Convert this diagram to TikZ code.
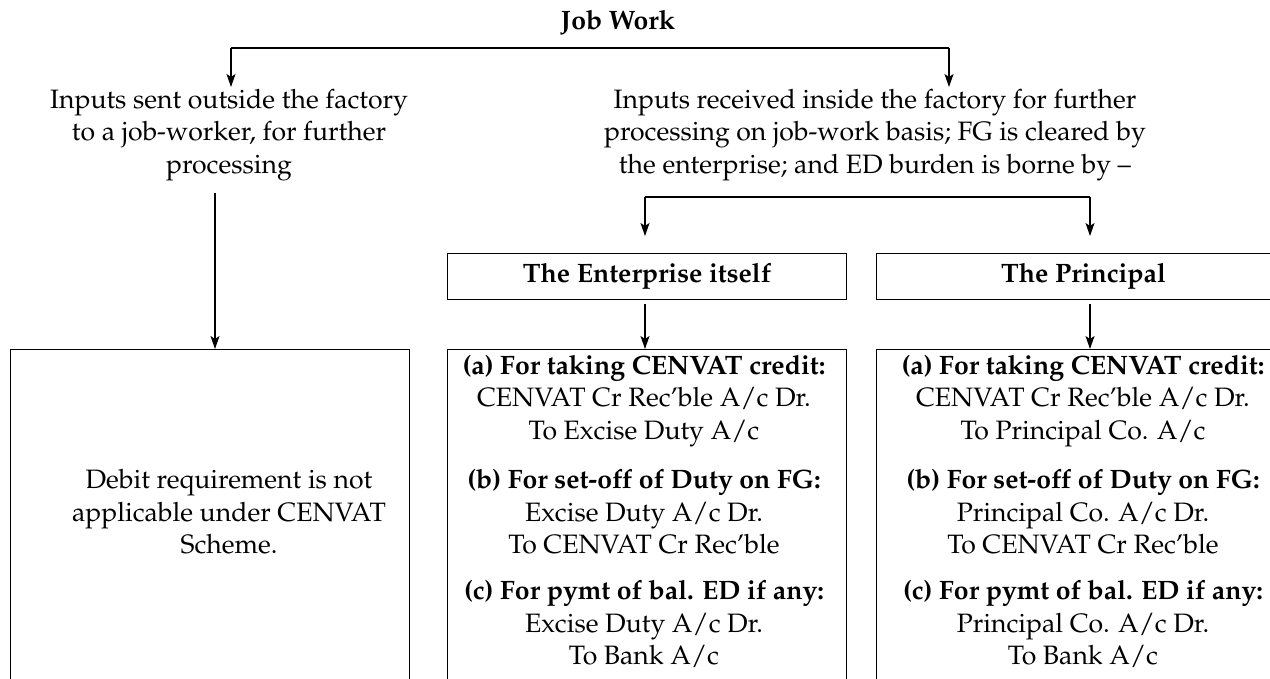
\documentclass[tikz,border=0pt]{standalone}
\usepackage[T1]{fontenc}
\usepackage{mathpazo}
\usetikzlibrary{arrows.meta}
\begin{document}
\begin{tikzpicture}[x=1pt,y=-1pt,
  ln/.style={line width=1.1pt},
  arr/.style={ln,-{Stealth[length=13pt,width=9pt,inset=3pt]}},
  box/.style={draw,line width=1.1pt,inner sep=0pt,anchor=north west},
  txt/.style={font=\fontsize{26.6}{32.5}\selectfont,align=center,inner sep=0pt},
  btxt/.style={txt,font=\fontsize{26.6}{32.5}\selectfont\bfseries}]
\useasboundingbox (0,0) rectangle (1270,678);
% title
\node[btxt] (title) at (618,23) {Job Work};
% first level texts
\node[txt] (ltext) at (229,135) {Inputs sent outside the factory\\to a job-worker, for further\\processing};
\node[txt] (rtext) at (875,135) {Inputs received inside the factory for further\\processing on job-work basis; FG is cleared by\\the enterprise; and ED burden is borne by --};
% second level boxes
\node[box,minimum width=399pt,minimum height=46pt] (ent) at (447,253) {};
\node[btxt] (entt) at (ent.center) {The Enterprise itself};
\node[box,minimum width=414pt,minimum height=46pt] (prin) at (876,253) {};
\node[btxt] (print) at (prin.center) {The Principal};
% bottom boxes (open at the bottom edge of the page)
\node[box,minimum width=399pt,minimum height=400pt] (lbox) at (10,349) {};
\node[box,minimum width=399pt,minimum height=400pt] (mbox) at (447,349) {};
\node[box,minimum width=414pt,minimum height=400pt] (rbox) at (876,349) {};
% bottom texts
\node[txt] (ltxt) at (229,512) {Debit requirement is not\\applicable under CENVAT\\Scheme.};
\node[txt] (ma) at (644,401) {\textbf{(a) For taking CENVAT credit:}\\CENVAT Cr Rec'ble A/c Dr.\\To Excise Duty A/c};
\node[txt] (mb) at (644,512) {\textbf{(b) For set-off of Duty on FG:}\\Excise Duty A/c Dr.\\To CENVAT Cr Rec'ble};
\node[txt] (mc) at (644,624) {\textbf{(c) For pymt of bal. ED if any:}\\Excise Duty A/c Dr.\\To Bank A/c};
\node[txt] (ra) at (1083,401) {\textbf{(a) For taking CENVAT credit:}\\CENVAT Cr Rec'ble A/c Dr.\\To Principal Co. A/c};
\node[txt] (rb) at (1083,512) {\textbf{(b) For set-off of Duty on FG:}\\Principal Co. A/c Dr.\\To CENVAT Cr Rec'ble};
\node[txt] (rc) at (1083,624) {\textbf{(c) For pymt of bal. ED if any:}\\Principal Co. A/c Dr.\\To Bank A/c};
% connectors
\coordinate (b1l) at (231,48);
\coordinate (b1r) at (949,48);
\draw[ln] (b1l) -- (b1r);
\draw[arr] (b1l) -- ++(0,39);
\draw[arr] (b1r) -- ++(0,39);
\coordinate (la) at (215,193);
\draw[arr] (la) -- (la |- lbox.north);
\coordinate (b2l) at (645,197);
\coordinate (b2r) at (1090,197);
\draw[ln] (b2l) -- (b2r);
\draw[arr] (b2l) -- ++(0,39);
\draw[arr] (b2r) -- ++(0,39);
\coordinate (ea) at (645,304);
\draw[arr] (ea) -- (ea |- mbox.north);
\coordinate (pa) at (1090,304);
\draw[arr] (pa) -- (pa |- rbox.north);
\end{tikzpicture}
\end{document}
